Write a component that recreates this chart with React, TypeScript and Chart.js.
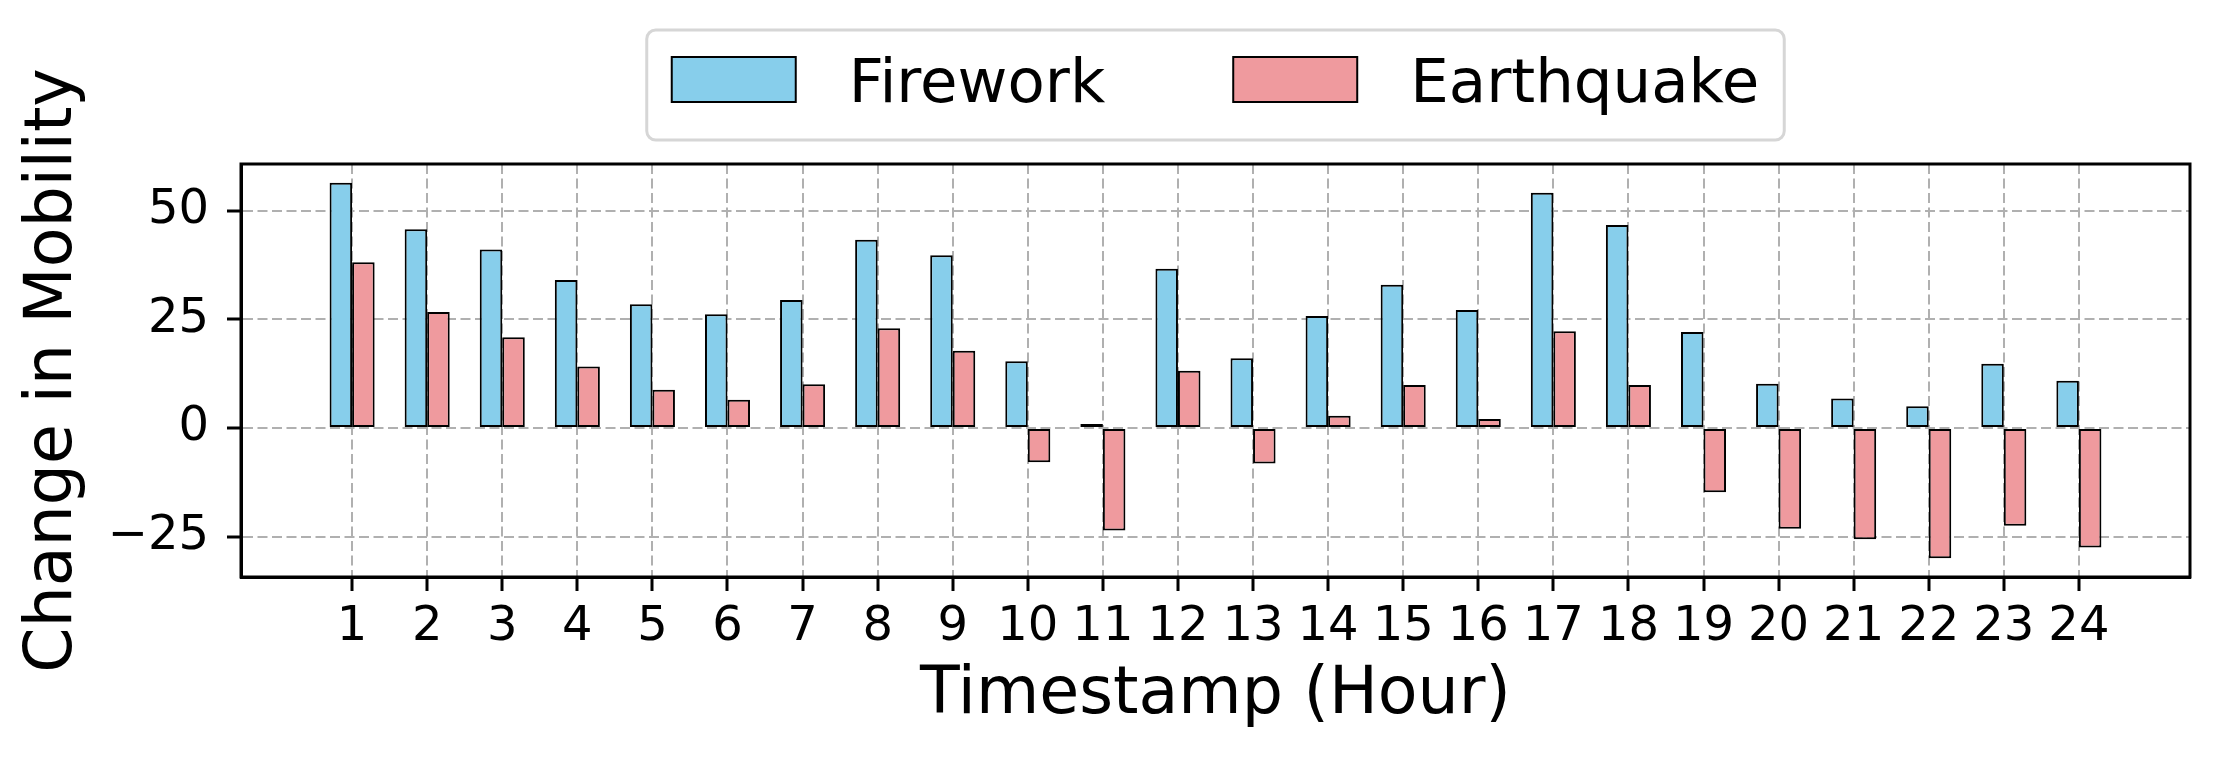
import React, { useEffect, useRef } from "react";
import { Chart, registerables } from "chart.js";

Chart.register(...registerables);

// ---- data ----
const hours: number[] = [1, 2, 3, 4, 5, 6, 7, 8, 9, 10, 11, 12, 13, 14, 15, 16, 17, 18, 19, 20, 21, 22, 23, 24];
const firework: number[] = [56.5, 45.8, 41.1, 34.1, 28.5, 26.2, 29.5, 43.4, 39.8, 15.4, 0.9, 36.7, 16.1, 25.8, 33.0, 27.2, 54.2, 46.8, 22.1, 10.2, 6.8, 5.0, 14.8, 10.9];
const earthquake: number[] = [38.2, 26.7, 20.9, 14.2, 8.8, 6.5, 10.1, 23.0, 17.8, -7.9, -23.6, 13.2, -8.2, 2.8, 9.9, 2.1, 22.3, 9.9, -14.8, -23.2, -25.6, -30.0, -22.5, -27.5];
const yTicks: number[] = [-25, 0, 25, 50];
const seriesLabels: string[] = ["Firework", "Earthquake"];
const xTitle = "Timestamp (Hour)";
const yTitle = "Change in Mobility";

const FONT = "'DejaVu Sans', 'Liberation Sans', sans-serif";

// axis limits like matplotlib autoscale (5% margins)
const barHalf = 0.3;
const xDataMin = hours[0] - barHalf;
const xDataMax = hours[hours.length - 1] + barHalf;
const xMargin = (xDataMax - xDataMin) * 0.05;
const allVals = [...firework, ...earthquake, 0];
const yDataMin = Math.min(...allVals);
const yDataMax = Math.max(...allVals);
const yMargin = (yDataMax - yDataMin) * 0.05;

const framePlugin = {
  id: "mplFrame",
  afterDraw(chart: any) {
    const { ctx, chartArea } = chart;
    ctx.save();
    ctx.setLineDash([]);
    ctx.lineWidth = 3;
    ctx.strokeStyle = "#000";
    ctx.strokeRect(chartArea.left, chartArea.top, chartArea.right - chartArea.left, chartArea.bottom - chartArea.top);
    ctx.restore();
  },
};

const legendPlugin = {
  id: "mplLegend",
  afterDraw(chart: any) {
    const { ctx, chartArea } = chart;
    const fontPx = 61;
    const handleW = 124;
    const handleH = 45;
    const textGap = 53;
    const colGap = 128;
    const padX = 25;
    const boxTop = 30;
    const boxH = 110;
    const swTop = 57;
    ctx.save();
    ctx.font = `${fontPx}px ${FONT}`;
    const items = chart.data.datasets.map((ds: any) => ({
      text: ds.label,
      fill: ds.backgroundColor,
      stroke: ds.borderColor,
      w: ctx.measureText(ds.label).width,
    }));
    const inner = items.reduce((s: number, it: any) => s + handleW + textGap + it.w, 0) + colGap * (items.length - 1);
    const boxW = inner + 2 * padX;
    const cx = (chartArea.left + chartArea.right) / 2;
    const boxLeft = cx - boxW / 2;
    ctx.beginPath();
    (ctx as any).roundRect(boxLeft, boxTop, boxW, boxH, 9);
    ctx.fillStyle = "rgba(255,255,255,0.85)";
    ctx.fill();
    ctx.lineWidth = 3;
    ctx.strokeStyle = "#d6d6d6";
    ctx.stroke();
    let x = boxLeft + padX;
    for (const it of items) {
      ctx.fillStyle = it.fill;
      ctx.fillRect(x, swTop, handleW, handleH);
      ctx.lineWidth = 2;
      ctx.strokeStyle = it.stroke;
      ctx.strokeRect(x, swTop, handleW, handleH);
      ctx.fillStyle = "#000";
      ctx.textBaseline = "alphabetic";
      ctx.textAlign = "left";
      ctx.fillText(it.text, x + handleW + textGap, swTop + handleH);
      x += handleW + textGap + it.w + colGap;
    }
    ctx.restore();
  },
};

export default function App() {
  const canvasRef = useRef<HTMLCanvasElement | null>(null);

  useEffect(() => {
    if (!canvasRef.current) return;
    const gridCommon = {
      color: "#b0b0b0",
      lineWidth: 2,
      drawTicks: true,
      tickLength: 14,
      tickWidth: 3,
      tickColor: "#000",
      offset: false,
    };
    const chart = new Chart(canvasRef.current, {
      type: "bar",
      data: {
        labels: hours,
        datasets: [
          {
            label: seriesLabels[0],
            data: firework,
            backgroundColor: "#87CEEB",
            borderColor: "#000",
            borderWidth: 2,
            borderSkipped: false,
            categoryPercentage: 0.6,
            barPercentage: 1.0,
          },
          {
            label: seriesLabels[1],
            data: earthquake,
            backgroundColor: "#EF9A9E",
            borderColor: "#000",
            borderWidth: 2,
            borderSkipped: false,
            categoryPercentage: 0.6,
            barPercentage: 1.0,
          },
        ],
      },
      options: {
        animation: false,
        responsive: false,
        devicePixelRatio: 1,
        layout: { padding: { top: 164, right: 29, left: 0, bottom: 0 } },
        plugins: {
          legend: { display: false },
          tooltip: { enabled: false },
        },
        scales: {
          x: {
            type: "linear",
            position: "bottom",
            offset: false,
            min: xDataMin - xMargin,
            max: xDataMax + xMargin,
            afterBuildTicks: (scale: any) => {
              scale.ticks = hours.map((h) => ({ value: h }));
            },
            afterFit: (scale: any) => {
              scale.height = 184;
            },
            ticks: {
              autoSkip: false,
              maxRotation: 0,
              minRotation: 0,
              padding: 8,
              color: "#000",
              font: { family: FONT, size: 48 },
              callback: (v: any) => String(v),
            },
            grid: { ...gridCommon },
            border: { display: true, color: "#000", width: 3, dash: [10, 4.5] },
            title: {
              display: true,
              text: xTitle,
              color: "#000",
              font: { family: FONT, size: 65, lineHeight: 1.2 },
              padding: { top: 0, bottom: 26 },
            },
          },
          y: {
            type: "linear",
            min: yDataMin - yMargin,
            max: yDataMax + yMargin,
            afterBuildTicks: (scale: any) => {
              scale.ticks = yTicks.map((v) => ({ value: v }));
            },
            afterFit: (scale: any) => {
              scale.width = 241;
            },
            ticks: {
              padding: 18,
              color: "#000",
              font: { family: FONT, size: 48 },
              callback: (v: any) => (v < 0 ? "\u2212" + Math.abs(v) : String(v)),
            },
            grid: { ...gridCommon },
            border: { display: true, color: "#000", width: 3, dash: [10, 4.5] },
            title: {
              display: true,
              text: yTitle,
              color: "#000",
              font: { family: FONT, size: 65, lineHeight: 1.2 },
              padding: { top: 15, bottom: 0 },
            },
          },
        },
      },
      plugins: [framePlugin, legendPlugin],
    } as any);
    return () => chart.destroy();
  }, []);

  return (
    <div style={{ position: "absolute", left: 0, top: 0, width: 2219, height: 761, background: "#fff" }}>
      <canvas ref={canvasRef} width={2219} height={761} style={{ width: 2219, height: 761, display: "block" }} />
    </div>
  );
}
